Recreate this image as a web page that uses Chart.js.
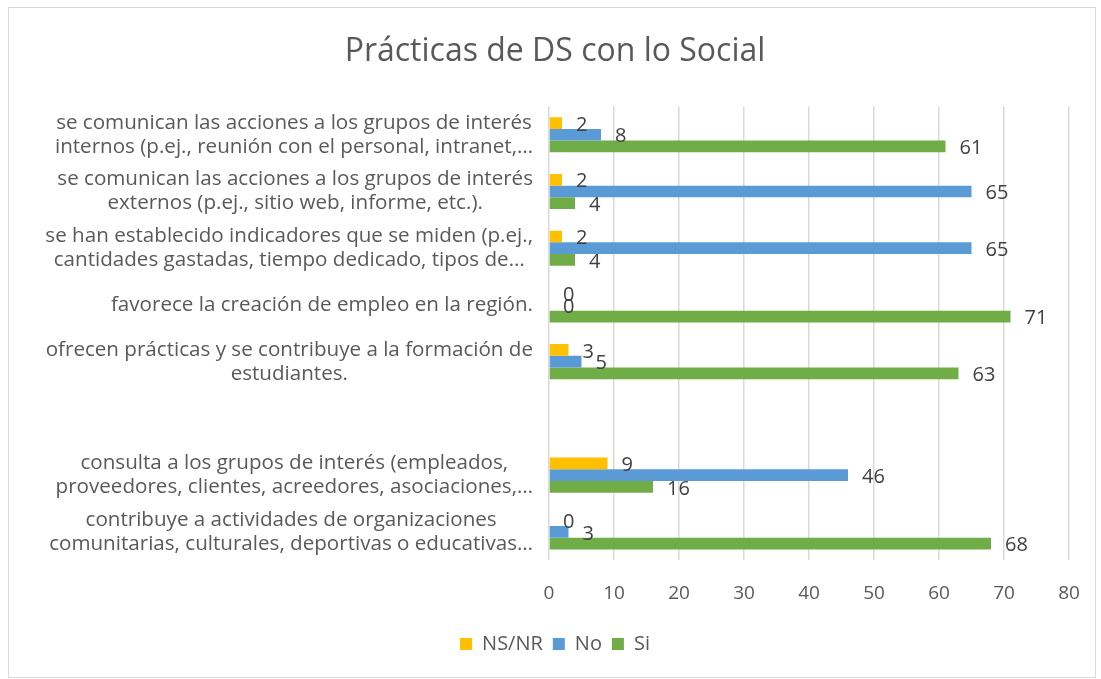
<!DOCTYPE html>
<html>
<head>
<meta charset="utf-8">
<script src="https://cdn.jsdelivr.net/npm/chart.js@4"></script>
<style>
  body { margin: 0; background: #fff; }
  #box { position: absolute; left: 8px; top: 7px; width: 1086px; height: 669px; border: 1px solid #d9d9d9; }
  canvas { display: block; }
</style>
</head>
<body>
<div id="box"><canvas id="chart" width="1086" height="669"></canvas></div>
<script>
// Catégories (lignes des étiquettes de l'axe vertical)
const categories = [
    ['se comunican las acciones a los grupos de interés', 'internos (p.ej., reunión con el personal, intranet,…'],
    ['se comunican las acciones a los grupos de interés', 'externos (p.ej., sitio web, informe, etc.).'],
    ['se han establecido indicadores que se miden (p.ej.,', 'cantidades gastadas, tiempo dedicado, tipos de…'],
    ['favorece la creación de empleo en la región.'],
    ['ofrecen prácticas y se contribuye a la formación de', 'estudiantes.'],
    [''],
    ['consulta a los grupos de interés (empleados,', 'proveedores, clientes, acreedores, asociaciones,…'],
    ['contribuye a actividades de organizaciones', 'comunitarias, culturales, deportivas o educativas…']
];

// Valeurs des séries
const nsnrValues = [2, 2, 2, 0, 3, null, 9, 0];
const noValues = [8, 65, 65, 0, 5, null, 46, 3];
const siValues = [61, 4, 4, 71, 63, null, 16, 68];

const seriesNames = ['NS/NR', 'No', 'Si'];
const chartTitle = 'Prácticas de DS con lo Social';
const xTicks = [0, 10, 20, 30, 40, 50, 60, 70, 80];

const FONT = '"Open Sans", Lato, sans-serif';
const PAD_LEFT = 32;

// Étiquettes de l'axe vertical : blocs alignés à droite, lignes centrées
const yLabelPlugin = {
    id: 'yLabels',
    afterDraw(chart) {
        const ctx = chart.ctx;
        const y = chart.scales.y;
        const right = 524;
        const lineH = 24;
        ctx.save();
        ctx.font = '20.6px ' + FONT;
        ctx.fillStyle = '#595959';
        ctx.textAlign = 'center';
        ctx.textBaseline = 'middle';
        categories.forEach((lines, i) => {
            const yc = y.getPixelForTick(i);
            const maxW = Math.max(...lines.map(l => ctx.measureText(l).width));
            const cx = right - maxW / 2;
            lines.forEach((l, j) => {
                ctx.fillText(l, cx, yc + (j - (lines.length - 1) / 2) * lineH);
            });
        });
        ctx.restore();
    }
};

// Valeurs affichées au bout des barres
const valueLabelPlugin = {
    id: 'valueLabels',
    afterDatasetsDraw(chart) {
        const ctx = chart.ctx;
        ctx.save();
        ctx.font = '20px ' + FONT;
        ctx.fillStyle = '#404040';
        ctx.textAlign = 'left';
        ctx.textBaseline = 'middle';
        chart.data.datasets.forEach((ds, di) => {
            const meta = chart.getDatasetMeta(di);
            meta.data.forEach((bar, i) => {
                const v = ds.data[i];
                if (v === null || v === undefined) return;
                ctx.fillText(String(v), bar.x + 14, bar.y + 2);
            });
        });
        ctx.restore();
    }
};

const ctx = document.getElementById('chart').getContext('2d');
new Chart(ctx, {
    type: 'bar',
    data: {
        labels: categories,
        datasets: [
            { label: seriesNames[0], data: nsnrValues, backgroundColor: '#FFC000' },
            { label: seriesNames[1], data: noValues, backgroundColor: '#5B9BD5' },
            { label: seriesNames[2], data: siValues, backgroundColor: '#70AD47' }
        ]
    },
    options: {
        indexAxis: 'y',
        responsive: false,
        animation: false,
        categoryPercentage: 0.62,
        barPercentage: 1.0,
        layout: { padding: { top: 0, left: PAD_LEFT, right: 26, bottom: 13 } },
        plugins: {
            title: {
                display: true,
                text: chartTitle,
                color: '#595959',
                font: { family: FONT, size: 32, weight: 'normal' },
                padding: { top: 25, bottom: 35 }
            },
            legend: {
                position: 'bottom',
                labels: {
                    color: '#595959',
                    font: { family: FONT, size: 20 },
                    boxWidth: 12,
                    boxHeight: 12,
                    padding: 10
                }
            },
            tooltip: { enabled: false }
        },
        scales: {
            x: {
                min: 0,
                max: 80,
                afterBuildTicks(scale) {
                    scale.ticks = xTicks.map(v => ({ value: v }));
                },
                afterFit(scale) {
                    scale.height -= 3;
                    scale.paddingRight = 0;
                },
                grid: { color: '#d9d9d9', lineWidth: 1.5, drawTicks: false },
                border: { display: false },
                ticks: {
                    color: '#595959',
                    font: { family: FONT, size: 19 },
                    padding: 22
                }
            },
            y: {
                grid: { display: false },
                border: { display: false },
                ticks: { display: false },
                afterFit(scale) {
                    scale.width = 540 - PAD_LEFT;
                }
            }
        }
    },
    plugins: [yLabelPlugin, valueLabelPlugin]
});
</script>
</body>
</html>
